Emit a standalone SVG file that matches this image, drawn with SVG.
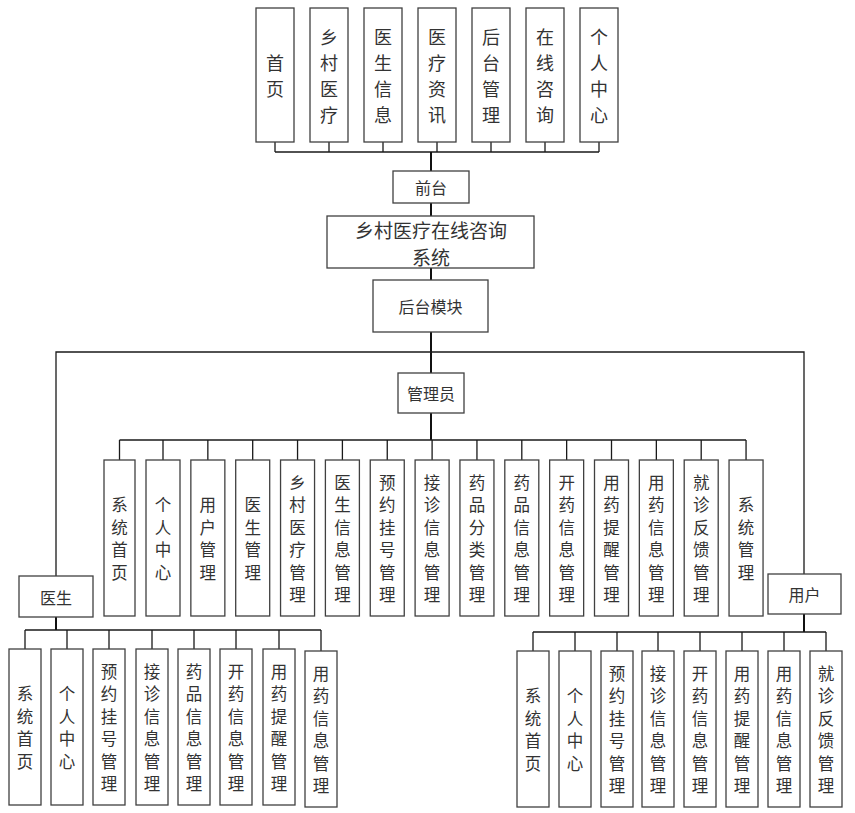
<svg xmlns="http://www.w3.org/2000/svg" width="855" height="813" viewBox="0 0 855 813">
<style>
.b{fill:#fff;stroke:#404040;stroke-width:1.3}
.l{fill:none;stroke:#1a1a1a;stroke-width:1.3}
.s{fill:none;stroke:#111;stroke-width:2}
.t{font-family:"Noto Sans CJK SC","Liberation Sans",sans-serif;fill:#333;text-anchor:middle;dominant-baseline:central}
.t18{font-size:18px}
.t17{font-size:16.5px}
.t16{font-size:16px}
</style>
<rect width="855" height="813" fill="#fff"/>
<g id="connectors">
<path class="l" d="M275 142V152M329 142V152M383 142V152M437 142V152M491 142V152M545 142V152M599 142V152M275 152H599"/>
<path class="s" d="M431 152V171M431 203V216M431 268V280M431 332V373M431 413V440"/>
<path class="l" d="M56 576V352H804V574"/>
<path class="l" d="M119.5 440H746M119.5 440V460M163 440V460M207.85 440V460M252.7 440V460M297.55 440V460M342.4 440V460M387.25 440V460M432.1 440V460M476.95 440V460M521.8 440V460M566.65 440V460M611.5 440V460M656.35 440V460M701.2 440V460M746.05 440V460"/>
<path class="s" d="M56 617V630"/>
<path class="l" d="M25 630H321M25 630V649M67 630V649M109 630V649M152 630V649M194 630V649M236 630V649M279 630V649M321 630V651"/>
<path class="s" d="M804 614V632"/>
<path class="l" d="M533 632H826M533 632V651M575 632V651M617 632V651M658 632V651M700 632V651M742 632V651M784 632V651M826 632V651"/>
</g>
<g id="top-home"><rect class="b" x="256" y="8" width="38" height="134"/><text class="t t18"><tspan x="275" y="62">首</tspan><tspan x="275" y="88">页</tspan></text></g>
<g id="top-rural"><rect class="b" x="310" y="8" width="38" height="134"/><text class="t t18"><tspan x="329" y="36">乡</tspan><tspan x="329" y="62">村</tspan><tspan x="329" y="88">医</tspan><tspan x="329" y="114">疗</tspan></text></g>
<g id="top-doctor"><rect class="b" x="364" y="8" width="38" height="134"/><text class="t t18"><tspan x="383" y="36">医</tspan><tspan x="383" y="62">生</tspan><tspan x="383" y="88">信</tspan><tspan x="383" y="114">息</tspan></text></g>
<g id="top-news"><rect class="b" x="418" y="8" width="38" height="134"/><text class="t t18"><tspan x="437" y="36">医</tspan><tspan x="437" y="62">疗</tspan><tspan x="437" y="88">资</tspan><tspan x="437" y="114">讯</tspan></text></g>
<g id="top-admin"><rect class="b" x="472" y="8" width="38" height="134"/><text class="t t18"><tspan x="491" y="36">后</tspan><tspan x="491" y="62">台</tspan><tspan x="491" y="88">管</tspan><tspan x="491" y="114">理</tspan></text></g>
<g id="top-consult"><rect class="b" x="526" y="8" width="38" height="134"/><text class="t t18"><tspan x="545" y="36">在</tspan><tspan x="545" y="62">线</tspan><tspan x="545" y="88">咨</tspan><tspan x="545" y="114">询</tspan></text></g>
<g id="top-personal"><rect class="b" x="580" y="8" width="38" height="134"/><text class="t t18"><tspan x="599" y="36">个</tspan><tspan x="599" y="62">人</tspan><tspan x="599" y="88">中</tspan><tspan x="599" y="114">心</tspan></text></g>
<g id="frontend"><rect class="b" x="393" y="171" width="76" height="32"/><text class="t t16" x="431" y="187">前台</text></g>
<g id="system"><rect class="b" x="327" y="216" width="207" height="52"/><text class="t" style="font-size:19px"><tspan x="431" y="228.5">乡村医疗在线咨询</tspan><tspan x="431" y="255.5">系统</tspan></text></g>
<g id="backend"><rect class="b" x="373" y="280" width="115" height="52"/><text class="t t16" x="430.5" y="306">后台模块</text></g>
<g id="admin"><rect class="b" x="398" y="373" width="66" height="40"/><text class="t t16" x="431" y="393">管理员</text></g>
<g id="doctor"><rect class="b" x="19" y="576" width="74" height="41"/><text class="t t16" x="56" y="597">医生</text></g>
<g id="user"><rect class="b" x="768" y="574" width="73" height="40"/><text class="t t16" x="804.5" y="594">用户</text></g>

<g id="a1"><rect class="b" x="104" y="460" width="31" height="156"/><text class="t t17"><tspan x="119.5" y="504.25">系</tspan><tspan x="119.5" y="526.75">统</tspan><tspan x="119.5" y="549.25">首</tspan><tspan x="119.5" y="571.75">页</tspan></text></g>
<g id="a2"><rect class="b" x="146" y="460" width="34" height="156"/><text class="t t17"><tspan x="163" y="504.25">个</tspan><tspan x="163" y="526.75">人</tspan><tspan x="163" y="549.25">中</tspan><tspan x="163" y="571.75">心</tspan></text></g>
<g id="a3"><rect class="b" x="190.85" y="460" width="34" height="156"/><text class="t t17"><tspan x="207.85" y="504.25">用</tspan><tspan x="207.85" y="526.75">户</tspan><tspan x="207.85" y="549.25">管</tspan><tspan x="207.85" y="571.75">理</tspan></text></g>
<g id="a4"><rect class="b" x="235.7" y="460" width="34" height="156"/><text class="t t17"><tspan x="252.7" y="504.25">医</tspan><tspan x="252.7" y="526.75">生</tspan><tspan x="252.7" y="549.25">管</tspan><tspan x="252.7" y="571.75">理</tspan></text></g>
<g id="a5"><rect class="b" x="280.55" y="460" width="34" height="156"/><text class="t t17"><tspan x="297.55" y="481.75">乡</tspan><tspan x="297.55" y="504.25">村</tspan><tspan x="297.55" y="526.75">医</tspan><tspan x="297.55" y="549.25">疗</tspan><tspan x="297.55" y="571.75">管</tspan><tspan x="297.55" y="594.25">理</tspan></text></g>
<g id="a6"><rect class="b" x="325.4" y="460" width="34" height="156"/><text class="t t17"><tspan x="342.4" y="481.75">医</tspan><tspan x="342.4" y="504.25">生</tspan><tspan x="342.4" y="526.75">信</tspan><tspan x="342.4" y="549.25">息</tspan><tspan x="342.4" y="571.75">管</tspan><tspan x="342.4" y="594.25">理</tspan></text></g>
<g id="a7"><rect class="b" x="370.25" y="460" width="34" height="156"/><text class="t t17"><tspan x="387.25" y="481.75">预</tspan><tspan x="387.25" y="504.25">约</tspan><tspan x="387.25" y="526.75">挂</tspan><tspan x="387.25" y="549.25">号</tspan><tspan x="387.25" y="571.75">管</tspan><tspan x="387.25" y="594.25">理</tspan></text></g>
<g id="a8"><rect class="b" x="415.1" y="460" width="34" height="156"/><text class="t t17"><tspan x="432.1" y="481.75">接</tspan><tspan x="432.1" y="504.25">诊</tspan><tspan x="432.1" y="526.75">信</tspan><tspan x="432.1" y="549.25">息</tspan><tspan x="432.1" y="571.75">管</tspan><tspan x="432.1" y="594.25">理</tspan></text></g>
<g id="a9"><rect class="b" x="459.95" y="460" width="34" height="156"/><text class="t t17"><tspan x="476.95" y="481.75">药</tspan><tspan x="476.95" y="504.25">品</tspan><tspan x="476.95" y="526.75">分</tspan><tspan x="476.95" y="549.25">类</tspan><tspan x="476.95" y="571.75">管</tspan><tspan x="476.95" y="594.25">理</tspan></text></g>
<g id="a10"><rect class="b" x="504.8" y="460" width="34" height="156"/><text class="t t17"><tspan x="521.8" y="481.75">药</tspan><tspan x="521.8" y="504.25">品</tspan><tspan x="521.8" y="526.75">信</tspan><tspan x="521.8" y="549.25">息</tspan><tspan x="521.8" y="571.75">管</tspan><tspan x="521.8" y="594.25">理</tspan></text></g>
<g id="a11"><rect class="b" x="549.65" y="460" width="34" height="156"/><text class="t t17"><tspan x="566.65" y="481.75">开</tspan><tspan x="566.65" y="504.25">药</tspan><tspan x="566.65" y="526.75">信</tspan><tspan x="566.65" y="549.25">息</tspan><tspan x="566.65" y="571.75">管</tspan><tspan x="566.65" y="594.25">理</tspan></text></g>
<g id="a12"><rect class="b" x="594.5" y="460" width="34" height="156"/><text class="t t17"><tspan x="611.5" y="481.75">用</tspan><tspan x="611.5" y="504.25">药</tspan><tspan x="611.5" y="526.75">提</tspan><tspan x="611.5" y="549.25">醒</tspan><tspan x="611.5" y="571.75">管</tspan><tspan x="611.5" y="594.25">理</tspan></text></g>
<g id="a13"><rect class="b" x="639.35" y="460" width="34" height="156"/><text class="t t17"><tspan x="656.35" y="481.75">用</tspan><tspan x="656.35" y="504.25">药</tspan><tspan x="656.35" y="526.75">信</tspan><tspan x="656.35" y="549.25">息</tspan><tspan x="656.35" y="571.75">管</tspan><tspan x="656.35" y="594.25">理</tspan></text></g>
<g id="a14"><rect class="b" x="684.2" y="460" width="34" height="156"/><text class="t t17"><tspan x="701.2" y="481.75">就</tspan><tspan x="701.2" y="504.25">诊</tspan><tspan x="701.2" y="526.75">反</tspan><tspan x="701.2" y="549.25">馈</tspan><tspan x="701.2" y="571.75">管</tspan><tspan x="701.2" y="594.25">理</tspan></text></g>
<g id="a15"><rect class="b" x="729.05" y="460" width="34" height="156"/><text class="t t17"><tspan x="746.05" y="504.25">系</tspan><tspan x="746.05" y="526.75">统</tspan><tspan x="746.05" y="549.25">管</tspan><tspan x="746.05" y="571.75">理</tspan></text></g>

<g id="d1"><rect class="b" x="9" y="649" width="32" height="156"/><text class="t t17"><tspan x="25" y="693.25">系</tspan><tspan x="25" y="715.75">统</tspan><tspan x="25" y="738.25">首</tspan><tspan x="25" y="760.75">页</tspan></text></g>
<g id="d2"><rect class="b" x="51" y="649" width="32" height="156"/><text class="t t17"><tspan x="67" y="693.25">个</tspan><tspan x="67" y="715.75">人</tspan><tspan x="67" y="738.25">中</tspan><tspan x="67" y="760.75">心</tspan></text></g>
<g id="d3"><rect class="b" x="93" y="649" width="32" height="156"/><text class="t t17"><tspan x="109" y="670.75">预</tspan><tspan x="109" y="693.25">约</tspan><tspan x="109" y="715.75">挂</tspan><tspan x="109" y="738.25">号</tspan><tspan x="109" y="760.75">管</tspan><tspan x="109" y="783.25">理</tspan></text></g>
<g id="d4"><rect class="b" x="136" y="649" width="32" height="156"/><text class="t t17"><tspan x="152" y="670.75">接</tspan><tspan x="152" y="693.25">诊</tspan><tspan x="152" y="715.75">信</tspan><tspan x="152" y="738.25">息</tspan><tspan x="152" y="760.75">管</tspan><tspan x="152" y="783.25">理</tspan></text></g>
<g id="d5"><rect class="b" x="178" y="649" width="32" height="156"/><text class="t t17"><tspan x="194" y="670.75">药</tspan><tspan x="194" y="693.25">品</tspan><tspan x="194" y="715.75">信</tspan><tspan x="194" y="738.25">息</tspan><tspan x="194" y="760.75">管</tspan><tspan x="194" y="783.25">理</tspan></text></g>
<g id="d6"><rect class="b" x="220" y="649" width="32" height="156"/><text class="t t17"><tspan x="236" y="670.75">开</tspan><tspan x="236" y="693.25">药</tspan><tspan x="236" y="715.75">信</tspan><tspan x="236" y="738.25">息</tspan><tspan x="236" y="760.75">管</tspan><tspan x="236" y="783.25">理</tspan></text></g>
<g id="d7"><rect class="b" x="263" y="649" width="32" height="156"/><text class="t t17"><tspan x="279" y="670.75">用</tspan><tspan x="279" y="693.25">药</tspan><tspan x="279" y="715.75">提</tspan><tspan x="279" y="738.25">醒</tspan><tspan x="279" y="760.75">管</tspan><tspan x="279" y="783.25">理</tspan></text></g>
<g id="d8"><rect class="b" x="305" y="651" width="32" height="156"/><text class="t t17"><tspan x="321" y="672.75">用</tspan><tspan x="321" y="695.25">药</tspan><tspan x="321" y="717.75">信</tspan><tspan x="321" y="740.25">息</tspan><tspan x="321" y="762.75">管</tspan><tspan x="321" y="785.25">理</tspan></text></g>

<g id="u1"><rect class="b" x="517" y="651" width="32" height="156"/><text class="t t17"><tspan x="533" y="695.25">系</tspan><tspan x="533" y="717.75">统</tspan><tspan x="533" y="740.25">首</tspan><tspan x="533" y="762.75">页</tspan></text></g>
<g id="u2"><rect class="b" x="559" y="651" width="32" height="156"/><text class="t t17"><tspan x="575" y="695.25">个</tspan><tspan x="575" y="717.75">人</tspan><tspan x="575" y="740.25">中</tspan><tspan x="575" y="762.75">心</tspan></text></g>
<g id="u3"><rect class="b" x="601" y="651" width="32" height="156"/><text class="t t17"><tspan x="617" y="672.75">预</tspan><tspan x="617" y="695.25">约</tspan><tspan x="617" y="717.75">挂</tspan><tspan x="617" y="740.25">号</tspan><tspan x="617" y="762.75">管</tspan><tspan x="617" y="785.25">理</tspan></text></g>
<g id="u4"><rect class="b" x="642" y="651" width="32" height="156"/><text class="t t17"><tspan x="658" y="672.75">接</tspan><tspan x="658" y="695.25">诊</tspan><tspan x="658" y="717.75">信</tspan><tspan x="658" y="740.25">息</tspan><tspan x="658" y="762.75">管</tspan><tspan x="658" y="785.25">理</tspan></text></g>
<g id="u5"><rect class="b" x="684" y="651" width="32" height="156"/><text class="t t17"><tspan x="700" y="672.75">开</tspan><tspan x="700" y="695.25">药</tspan><tspan x="700" y="717.75">信</tspan><tspan x="700" y="740.25">息</tspan><tspan x="700" y="762.75">管</tspan><tspan x="700" y="785.25">理</tspan></text></g>
<g id="u6"><rect class="b" x="726" y="651" width="32" height="156"/><text class="t t17"><tspan x="742" y="672.75">用</tspan><tspan x="742" y="695.25">药</tspan><tspan x="742" y="717.75">提</tspan><tspan x="742" y="740.25">醒</tspan><tspan x="742" y="762.75">管</tspan><tspan x="742" y="785.25">理</tspan></text></g>
<g id="u7"><rect class="b" x="768" y="651" width="32" height="156"/><text class="t t17"><tspan x="784" y="672.75">用</tspan><tspan x="784" y="695.25">药</tspan><tspan x="784" y="717.75">信</tspan><tspan x="784" y="740.25">息</tspan><tspan x="784" y="762.75">管</tspan><tspan x="784" y="785.25">理</tspan></text></g>
<g id="u8"><rect class="b" x="810" y="651" width="32" height="156"/><text class="t t17"><tspan x="826" y="672.75">就</tspan><tspan x="826" y="695.25">诊</tspan><tspan x="826" y="717.75">反</tspan><tspan x="826" y="740.25">馈</tspan><tspan x="826" y="762.75">管</tspan><tspan x="826" y="785.25">理</tspan></text></g>
</svg>
